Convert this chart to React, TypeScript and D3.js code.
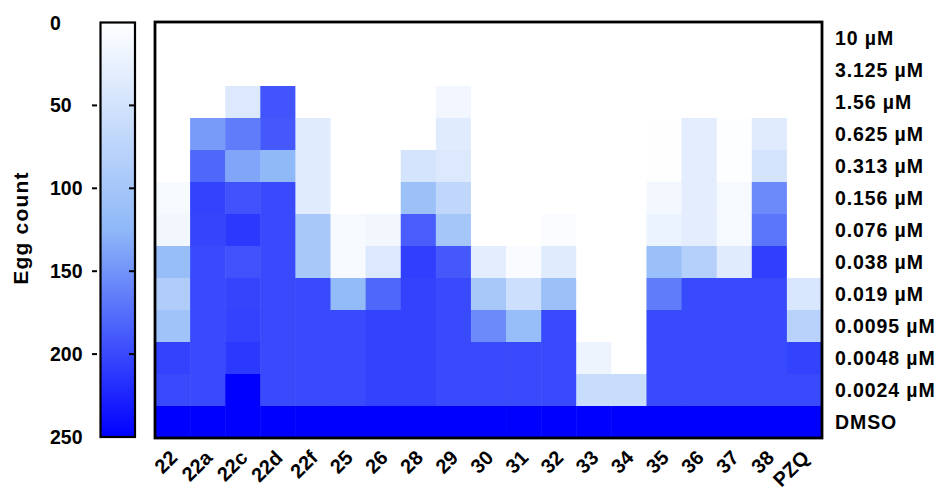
import React from "react";
import * as d3 from "d3";

const compounds = ["22","22a","22c","22d","22f","25","26","28","29","30","31","32","33","34","35","36","37","38","PZQ"];
const concentrations = ["10 µM","3.125 µM","1.56 µM","0.625 µM","0.313 µM","0.156 µM","0.076 µM","0.038 µM","0.019 µM","0.0095 µM","0.0048 µM","0.0024 µM","DMSO"];
const colorTicks = [0, 50, 100, 150, 200, 250];

// Egg counts per compound, top (10 µM) to bottom (DMSO)
const c22 = [0,0,0,0,0,10,14,115,88,106,205,200,250];
const c22a = [0,0,0,145,180,205,203,200,200,200,200,200,250];
const c22c = [0,0,39,166,138,194,212,194,203,205,212,250,250];
const c22d = [0,0,192,190,124,200,200,200,200,200,200,200,250];
const c22f = [0,0,0,35,35,35,97,97,200,200,200,200,250];
const c25 = [0,0,0,0,0,0,10,10,120,200,200,200,250];
const c26 = [0,0,0,0,0,0,14,39,180,205,205,205,250];
const c28 = [0,0,0,0,48,110,187,208,205,205,205,205,250];
const c29 = [0,0,15,35,39,70,101,190,200,200,200,200,250];
const c30 = [0,0,0,0,0,0,0,31,97,156,200,200,250];
const c31 = [0,0,0,0,0,0,0,7,57,115,200,200,250];
const c32 = [0,0,0,0,0,0,6,35,110,200,200,200,250];
const c33 = [0,0,0,0,0,0,0,0,0,0,20,61,250];
const c34 = [0,0,0,0,0,0,0,0,0,0,0,61,250];
const c35 = [0,0,0,1,1,13,22,112,166,200,200,200,250];
const c36 = [0,0,0,31,31,31,31,84,200,200,200,200,250];
const c37 = [0,0,0,2,2,10,10,35,200,200,200,200,250];
const c38 = [0,0,0,35,48,156,170,208,200,200,200,200,250];
const cPZQ = [0,0,0,0,0,0,0,0,43,79,205,200,250];

const columns = [c22,c22a,c22c,c22d,c22f,c25,c26,c28,c29,c30,c31,c32,c33,c34,c35,c36,c37,c38,cPZQ];

const W = 937, H = 490;
const FONT = "'Liberation Sans', Arial, sans-serif";

export default function App() {
  const x = d3.scaleBand<string>().domain(compounds).range([155, 822]).padding(0);
  const y = d3.scaleBand<string>().domain(concentrations).range([22, 438]).padding(0);
  const color = d3.scaleLinear<string>().domain([0, 125, 250]).range(["#ffffff", "#8fb8f8", "#0000ff"]).clamp(true);
  const cb = d3.scaleLinear().domain([0, 250]).range([22.5, 437]);

  const cells: any[] = [];
  columns.forEach((vals, i) => {
    vals.forEach((v, j) => {
      cells.push(
        <rect key={`${i}-${j}`} x={x(compounds[i])!} y={y(concentrations[j])!}
          width={x.bandwidth() + 0.5} height={y.bandwidth() + 0.5} fill={color(v)} />
      );
    });
  });

  return (
    <svg width={W} height={H} style={{ position: "absolute", left: 0, top: 0, background: "#fff" }}
      fontFamily={FONT} fontWeight="bold">
      <defs>
        <linearGradient id="cbg" x1="0" y1="0" x2="0" y2="1">
          {[0, 125, 250].map((v) => (
            <stop key={v} offset={`${(v / 250) * 100}%`} stopColor={color(v)} />
          ))}
        </linearGradient>
      </defs>

      {/* colour bar */}
      <rect x={100.5} y={cb(0)} width={34.5} height={cb(250) - cb(0)} fill="url(#cbg)" stroke="#000" strokeWidth={2.2} />
      {colorTicks.map((t) => (
        <g key={t}>
          {t > 0 && t < 250 && (
            <>
              <line x1={92} x2={97} y1={cb(t)} y2={cb(t)} stroke="#000" strokeWidth={2} />
              <line x1={129} x2={134} y1={cb(t)} y2={cb(t)} stroke="#000" strokeWidth={2} />
            </>
          )}
          <text x={50} y={cb(t)} dy="0.36em" fontSize={19.5} fill="#000">{t}</text>
        </g>
      ))}
      <text transform={`translate(28, 228) rotate(-90)`} textAnchor="middle" fontSize={21} letterSpacing={1.2} fill="#000">Egg count</text>

      {/* heatmap */}
      {cells}
      <rect x={155} y={22} width={667} height={416} fill="none" stroke="#000" strokeWidth={2.8} />

      {/* right labels */}
      {concentrations.map((c) => (
        <text key={c} x={835} y={y(c)! + y.bandwidth() / 2} dy="0.36em" fontSize={19.5} letterSpacing={0.9} fill="#000">{c}</text>
      ))}

      {/* bottom labels */}
      {compounds.map((c) => {
        const cx = x(c)! + x.bandwidth() / 2;
        return (
          <text key={c} transform={`translate(${cx + 6}, 459) rotate(-45)`} textAnchor="end" fontSize={20} fill="#000">{c}</text>
        );
      })}
    </svg>
  );
}
